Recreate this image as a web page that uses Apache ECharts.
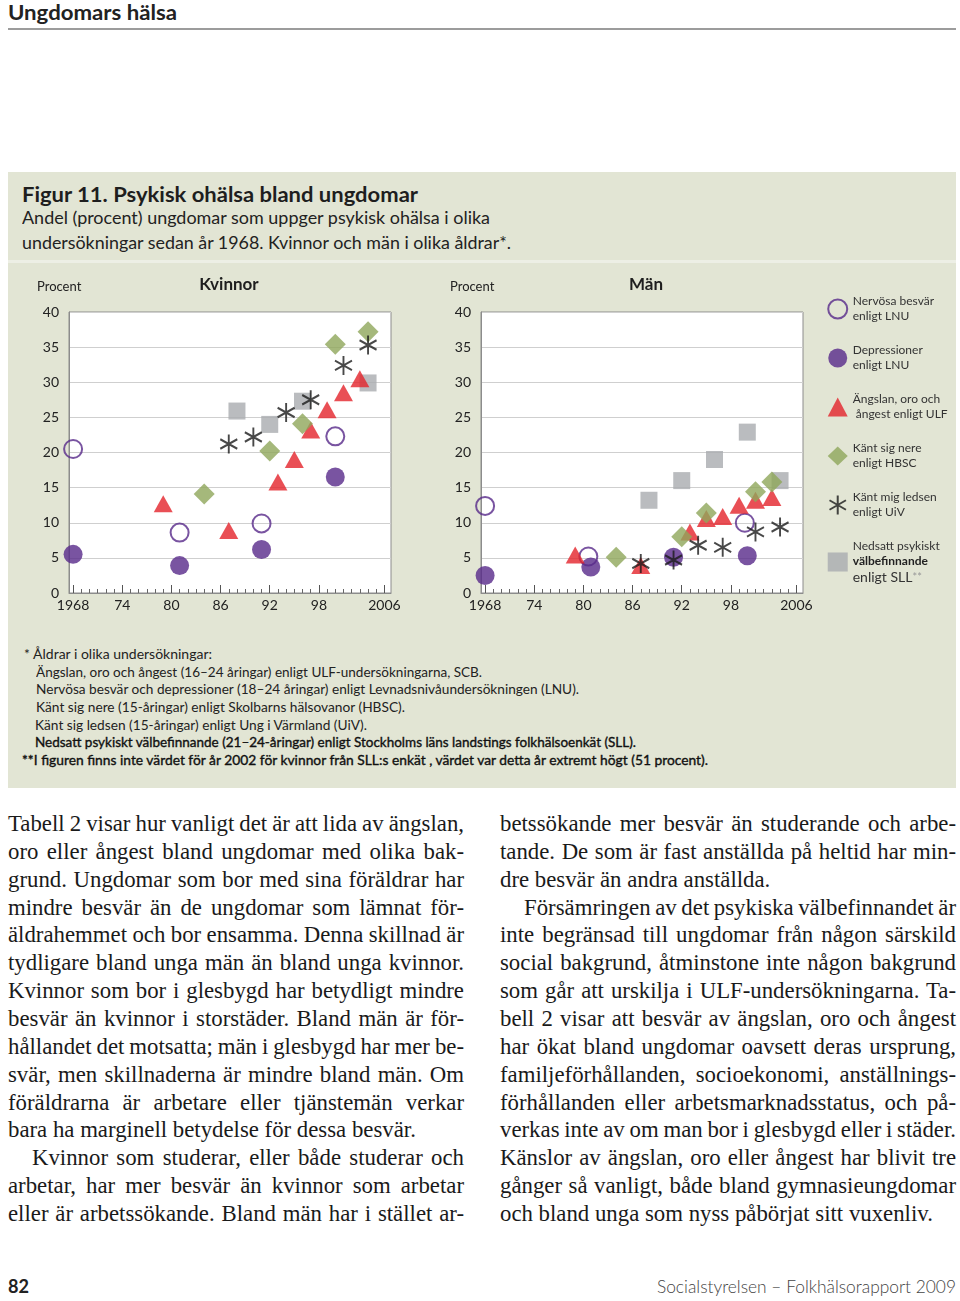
<!DOCTYPE html>
<html><head><meta charset="utf-8">
<script src="https://cdn.jsdelivr.net/npm/echarts@6/dist/echarts.min.js"></script>
<style>
body{margin:0;background:#fff;width:960px;height:1301px;position:relative;overflow:hidden;font-family:Lato,'Open Sans',sans-serif;color:#222;}
.a{position:absolute;white-space:nowrap;}
.fit{display:inline-block;transform-origin:0 50%;}
#fig{left:8px;top:172px;width:948px;height:616px;background:#e2e5d4;}
.body{position:absolute;width:456px;font-family:'Liberation Serif','Times New Roman',serif;font-size:22.8px;line-height:27.86px;color:#1a1a1a;}
.ln{white-space:nowrap;height:27.86px;}
.ln span{display:inline-block;}
.fn{font-size:13px;line-height:17.67px;color:#222;}
</style></head>
<body>
<div class="a" style="left:8px;top:0;font-size:21px;line-height:24px;font-weight:bold;color:#222;"><span class="fit" data-w="169">Ungdomars hälsa</span></div>
<div class="a" style="left:8px;top:28px;width:948px;height:2px;background:#9c9c9c;"></div>

<div class="a" id="fig"></div>
<div class="a" style="left:8px;top:260px;width:948px;height:3px;background:#edefe5;"></div>
<div class="a" style="left:22px;top:182px;font-size:20px;line-height:24px;font-weight:bold;color:#1e1e1e;"><span class="fit" data-w="396">Figur 11. Psykisk ohälsa bland ungdomar</span></div>
<div class="a" style="left:22px;top:205px;font-size:17px;line-height:25px;color:#222;">
<div><span class="fit" data-w="468">Andel (procent) ungdomar som uppger psykisk ohälsa i olika</span></div>
<div><span class="fit" data-w="489">undersökningar sedan år 1968. Kvinnor och män i olika åldrar*.</span></div>
</div>

<div id="chart" class="a" style="left:0;top:262px;width:960px;height:372px;"></div>

<div class="a fn" style="left:22px;top:646px;">
<div style="padding-left:2px"><span class="fit" data-w="188">* Åldrar i olika undersökningar:</span></div>
<div style="padding-left:14px"><span class="fit" data-w="446">Ängslan, oro och ångest (16–24 åringar) enligt ULF-undersökningarna, SCB.</span></div>
<div style="padding-left:14px"><span class="fit" data-w="543">Nervösa besvär och depressioner (18–24 åringar) enligt Levnadsnivåundersökningen (LNU).</span></div>
<div style="padding-left:14px"><span class="fit" data-w="369">Känt sig nere (15-åringar) enligt Skolbarns hälsovanor (HBSC).</span></div>
<div style="padding-left:13px"><span class="fit" data-w="332">Känt sig ledsen (15-åringar) enligt Ung i Värmland (UiV).</span></div>
<div style="padding-left:13px;-webkit-text-stroke:0.35px #111;color:#111"><span class="fit" data-w="601">Nedsatt psykiskt välbefinnande (21–24-åringar) enligt Stockholms läns landstings folkhälsoenkät (SLL).</span></div>
<div style="-webkit-text-stroke:0.35px #111;color:#111"><span class="fit" data-w="686">**I figuren finns inte värdet för år 2002 för kvinnor från SLL:s enkät , värdet var detta år extremt högt (51 procent).</span></div>
</div>

<div class="body" style="left:8px;top:810px;">
<div class="ln j"><span>Tabell 2 visar hur vanligt det är att lida av ängslan,</span></div>
<div class="ln j"><span>oro eller ångest bland ungdomar med olika bak-</span></div>
<div class="ln j"><span>grund. Ungdomar som bor med sina föräldrar har</span></div>
<div class="ln j"><span>mindre besvär än de ungdomar som lämnat för-</span></div>
<div class="ln j"><span>äldrahemmet och bor ensamma. Denna skillnad är</span></div>
<div class="ln j"><span>tydligare bland unga män än bland unga kvinnor.</span></div>
<div class="ln j"><span>Kvinnor som bor i glesbygd har betydligt mindre</span></div>
<div class="ln j"><span>besvär än kvinnor i storstäder. Bland män är för-</span></div>
<div class="ln j"><span>hållandet det motsatta; män i glesbygd har mer be-</span></div>
<div class="ln j"><span>svär, men skillnaderna är mindre bland män. Om</span></div>
<div class="ln j"><span>föräldrarna är arbetare eller tjänstemän verkar</span></div>
<div class="ln"><span>bara ha marginell betydelse för dessa besvär.</span></div>
<div class="ln j ind"><span>Kvinnor som studerar, eller både studerar och</span></div>
<div class="ln j"><span>arbetar, har mer besvär än kvinnor som arbetar</span></div>
<div class="ln j"><span>eller är arbetssökande. Bland män har i stället ar-</span></div>
</div>
<div class="body" style="left:500px;top:810px;">
<div class="ln j"><span>betssökande mer besvär än studerande och arbe-</span></div>
<div class="ln j"><span>tande. De som är fast anställda på heltid har min-</span></div>
<div class="ln"><span>dre besvär än andra anställda.</span></div>
<div class="ln j ind"><span>Försämringen av det psykiska välbefinnandet är</span></div>
<div class="ln j"><span>inte begränsad till ungdomar från någon särskild</span></div>
<div class="ln j"><span>social bakgrund, åtminstone inte någon bakgrund</span></div>
<div class="ln j"><span>som går att urskilja i ULF-undersökningarna. Ta-</span></div>
<div class="ln j"><span>bell 2 visar att besvär av ängslan, oro och ångest</span></div>
<div class="ln j"><span>har ökat bland ungdomar oavsett deras ursprung,</span></div>
<div class="ln j"><span>familjeförhållanden, socioekonomi, anställnings-</span></div>
<div class="ln j"><span>förhållanden eller arbetsmarknadsstatus, och på-</span></div>
<div class="ln j"><span>verkas inte av om man bor i glesbygd eller i städer.</span></div>
<div class="ln j"><span>Känslor av ängslan, oro eller ångest har blivit tre</span></div>
<div class="ln j"><span>gånger så vanligt, både bland gymnasieungdomar</span></div>
<div class="ln"><span>och bland unga som nyss påbörjat sitt vuxenliv.</span></div>
</div>

<div class="a" style="left:8px;top:1274px;font-size:18px;line-height:24px;font-weight:bold;color:#222;"><span class="fit" data-w="21">82</span></div>
<div class="a" style="left:657px;top:1274px;font-size:18px;line-height:24px;font-weight:300;color:#444;"><span class="fit" data-w="299">Socialstyrelsen – Folkhälsorapport 2009</span></div>

<script>
// ---------- DATA ----------
const seriesNames = [
  'Nervösa besvär\nenligt LNU',
  'Depressioner\nenligt LNU',
  'Ängslan, oro och\n ångest enligt ULF',
  'Känt sig nere\nenligt HBSC',
  'Känt mig ledsen\nenligt UiV',
  'Nedsatt psykiskt\nvälbefinnande\nenligt SLL**'
];
const panelTitles = ['Kvinnor', 'Män'];
const yAxisName = 'Procent';

// Kvinnor [year, percent]
const kvNervosa      = [[1968,20.5],[1981,8.6],[1991,9.9],[2000,22.3]];
const kvDepression   = [[1968,5.5],[1981,3.9],[1991,6.2],[2000,16.5]];
const kvAngslan      = [[1979,12.7],[1987,8.9],[1993,15.8],[1995,19.0],[1997,23.2],[1999,26.1],[2001,28.5],[2003,30.5]];
const kvNere         = [[1984,14.1],[1992,20.2],[1996,24.1],[2000,35.4],[2004,37.2]];
const kvLedsen       = [[1987,21.2],[1990,22.2],[1994,25.7],[1997,27.5],[2001,32.4],[2004,35.3]];
const kvSLL          = [[1988,25.9],[1992,24.0],[1996,27.3],[2004,29.9]];

// Män [year, percent]
const manNervosa     = [[1968,12.4],[1980.6,5.2],[1999.7,10.0]];
const manDepression  = [[1968,2.5],[1980.9,3.7],[1991,5.1],[2000,5.3]];
const manAngslan     = [[1979,5.4],[1987,3.9],[1993,8.7],[1995,10.6],[1997,10.9],[1999,12.5],[2001,13.2],[2003,13.6]];
const manNere        = [[1984,5.1],[1992,8.0],[1995,11.4],[2001,14.4],[2003,15.8]];
const manLedsen      = [[1987,4.2],[1991,4.7],[1994,6.8],[1997,6.5],[2001,8.7],[2004,9.4]];
const manSLL         = [[1988,13.2],[1992,16.0],[1996,19.0],[2000,22.9],[2004,16.0]];

// Axis ticks
const xMinorTicks = [1968,1969,1970,1971,1972,1973,1974,1975,1976,1977,1978,1979,1980,1981,1982,1983,1984,1985,1986,1987,1988,1989,1990,1991,1992,1993,1994,1995,1996,1997,1998,1999,2000,2001,2002,2003,2004,2005,2006];
const xMajorTicks = [1968,1974,1980,1986,1992,1998,2006];
const xTickLabels = ['1968','74','80','86','92','98','2006'];
const yMin = 0, yMax = 40, yStep = 5;

// ---------- CHART ----------
const panels = [
  [kvNervosa, kvDepression, kvAngslan, kvNere, kvLedsen, kvSLL],
  [manNervosa, manDepression, manAngslan, manNere, manLedsen, manSLL]
];
const purple = '#58298a', red = '#e3232b', green = '#8fa65a', grey = '#a9abaf', black = '#1a1a1a';
const asterisk = 'path://M10,0 L10,20 M1.34,5 L18.66,15 M18.66,5 L1.34,15';
const styles = [
  {symbol:'circle', symbolSize:18, itemStyle:{color:'rgba(255,255,255,0)', borderColor:purple, borderWidth:2}, z:3},
  {symbol:'circle', symbolSize:19, itemStyle:{color:purple}, z:4},
  {symbol:'triangle', symbolSize:[19,17], itemStyle:{color:red}, z:5},
  {symbol:'diamond', symbolSize:[21,21], itemStyle:{color:green}, z:6},
  {symbol:asterisk, symbolSize:[17,19], itemStyle:{color:'none', borderColor:black, borderWidth:2}, z:7},
  {symbol:'rect', symbolSize:17, itemStyle:{color:grey}, z:2}
];
const gridLefts = [69, 481];
const grids = gridLefts.map(l => ({left:l, top:50, width:322, height:281, show:true, backgroundColor:'#fff', borderColor:'#8c8c8c', borderWidth:1, containLabel:false}));
const xAxes = [], yAxes = [], series = [];
const labelFor = v => xTickLabels[xMajorTicks.indexOf(v)];
gridLefts.forEach((l, g) => {
  xAxes.push({type:'value', gridIndex:g, min:1967.5, max:2006.8,
    axisLine:{show:true, lineStyle:{color:'#8c8c8c', width:1}},
    axisTick:{show:true, inside:true, length:4, customValues:xMinorTicks, lineStyle:{color:'#666', width:1}},
    axisLabel:{show:false}, splitLine:{show:false}});
  xAxes.push({type:'value', gridIndex:g, min:1967.5, max:2006.8, position:'bottom',
    axisLine:{show:false},
    axisTick:{show:true, inside:true, length:8, customValues:xMajorTicks, lineStyle:{color:'#555', width:1}},
    axisLabel:{show:true, customValues:xMajorTicks, formatter:v => labelFor(v), fontFamily:'Lato', fontSize:14, color:'#222', margin:5},
    splitLine:{show:false}});
  yAxes.push({type:'value', gridIndex:g, min:yMin, max:yMax, interval:yStep,
    axisLine:{show:true, lineStyle:{color:'#8c8c8c'}}, axisTick:{show:false},
    axisLabel:{fontFamily:'Lato', fontSize:14, color:'#222', margin:10},
    splitLine:{show:true, lineStyle:{color:'#cfcfcf', width:1}}});
  panels[g].forEach((data, i) => {
    series.push(Object.assign({type:'scatter', name:seriesNames[i], xAxisIndex:2*g, yAxisIndex:g, data:data, silent:true}, styles[i]));
  });
});

const chart = echarts.init(document.getElementById('chart'), null, {renderer:'canvas'});
chart.setOption({
  animation:false,
  textStyle:{fontFamily:'Lato'},
  grid:grids, xAxis:xAxes, yAxis:yAxes, series:series,
  legend:{
    orient:'vertical', left:822, top:27, itemWidth:20, itemHeight:19, itemGap:19,
    data:seriesNames, selectedMode:false,
    textStyle:{fontFamily:'Lato', fontSize:12, color:'#333', lineHeight:15,
      rich:{n:{fontSize:12, lineHeight:15, color:'#333'}, b:{fontSize:12, lineHeight:15, fontWeight:'bold', color:'#222'}, c:{fontSize:14, lineHeight:16, color:'#333'}, d:{fontSize:11, lineHeight:16, color:'#999'}}},
    formatter: name => name === seriesNames[5] ? '{n|Nedsatt psykiskt}\n{b|välbefinnande}\n{c|enligt SLL}{d|**}' : name
  },
  graphic:[
    {type:'text', left:37, top:18, style:{text:yAxisName, font:'13px Lato', fill:'#222'}},
    {type:'text', x:229, y:23, style:{text:panelTitles[0], font:'bold 17px Lato', fill:'#1e1e1e', align:'center', verticalAlign:'middle'}},
    {type:'text', left:450, top:18, style:{text:yAxisName, font:'13px Lato', fill:'#222'}},
    {type:'text', x:646, y:23, style:{text:panelTitles[1], font:'bold 17px Lato', fill:'#1e1e1e', align:'center', verticalAlign:'middle'}}
  ]
});

// ---------- text fitting ----------
document.querySelectorAll('.fit').forEach(el => {
  const w = el.getBoundingClientRect().width, t = +el.dataset.w;
  if (w > 0) el.style.transform = 'scaleX(' + (t / w) + ')';
});
document.querySelectorAll('.ln').forEach(el => {
  const sp = el.firstElementChild;
  const indent = el.classList.contains('ind') ? 24 : 0;
  sp.style.marginLeft = indent + 'px';
  if (!el.classList.contains('j')) return;
  const W = 456 - indent;
  const w = sp.getBoundingClientRect().width;
  const n = (sp.textContent.match(/ /g) || []).length;
  if (n > 0) sp.style.wordSpacing = ((W - w) / n) + 'px';
});
</script>
</body></html>
